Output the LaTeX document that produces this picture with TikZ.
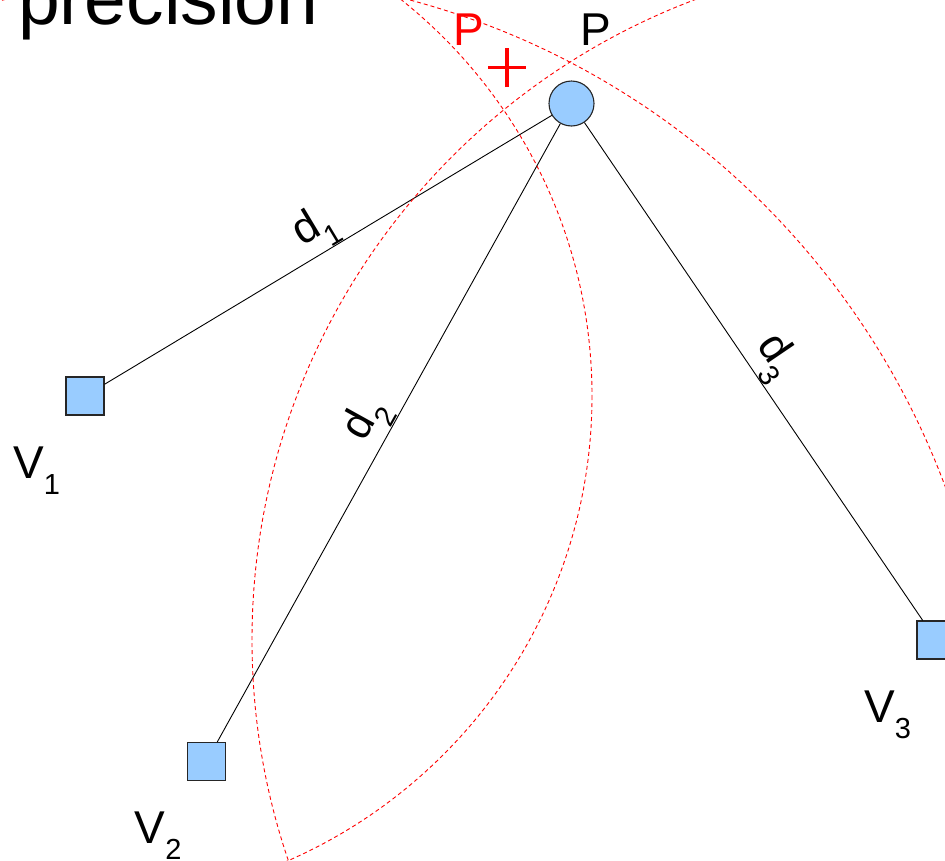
\documentclass[tikz,border=0pt]{standalone}
\usepackage{fontspec}
\setmainfont{Liberation Sans}
\usepackage{tikz}
\usetikzlibrary{positioning}

\definecolor{skyblue}{HTML}{99CCFF}
\newcommand{\idx}[1]{\raisebox{-16pt}{\fontsize{29}{30}\selectfont #1}}

\begin{document}
\begin{tikzpicture}[
    x=1pt, y=-1pt,
    station/.style={draw=black!85, line width=1.1pt, fill=skyblue, minimum size=38pt, inner sep=0pt},
    target/.style={circle, draw=black!85, line width=1.1pt, fill=skyblue, minimum size=45pt, inner sep=0pt},
    link/.style={line width=0.9pt},
    reach/.style={red, line width=0.9pt, dash pattern=on 4pt off 3pt},
    lbl/.style={inner sep=0pt, anchor=base west, font=\fontsize{46}{50}\selectfont},
    dist/.style={inner sep=0pt, sloped, above, font=\fontsize{44}{48}\selectfont},
    estmark/.style={red, line width=3.3pt}
]
\useasboundingbox (0,0) rectangle (945,860);
\clip (0,0) rectangle (945,860);
\node[station] (v1) at (85,396) {};
\node[station] (v2) at (206.5,761.5) {};
\node[station] (v3) at (936,640) {};
\node[target] (p) at (571.5,103.5) {};
\node[lbl] (v1lbl) at ([shift={(-72,82)}]v1) {V\idx{1}};
\node[lbl] (v2lbl) at ([shift={(-72,82)}]v2) {V\idx{2}};
\node[lbl] (v3lbl) at ([shift={(-72,82)}]v3) {V\idx{3}};
\node[lbl] (plbl) at (580.5,45) {P};
\node[lbl, red] (estlbl) at (453.5,45) {P};
\node[lbl, font=\fontsize{75}{80}\selectfont] (title) at (18,24) {precision};
\coordinate (est) at (507,67.5);
\draw[estmark] ([xshift=-19pt]est) -- ([xshift=19pt]est) ([yshift=-19.5pt]est) -- ([yshift=19.5pt]est);
\draw[link] (v1) -- node[dist] {d\idx{1}} (p);
\draw[link] (v2) -- node[dist] {d\idx{2}} (p);
\draw[link] (p) -- node[dist] {d\idx{3}} (v3);
\draw[reach] (v1.center) circle[radius=507];
\draw[reach] (v2.center) circle[radius=788];
\draw[reach] (v3.center) circle[radius=684];
\end{tikzpicture}
\end{document}
